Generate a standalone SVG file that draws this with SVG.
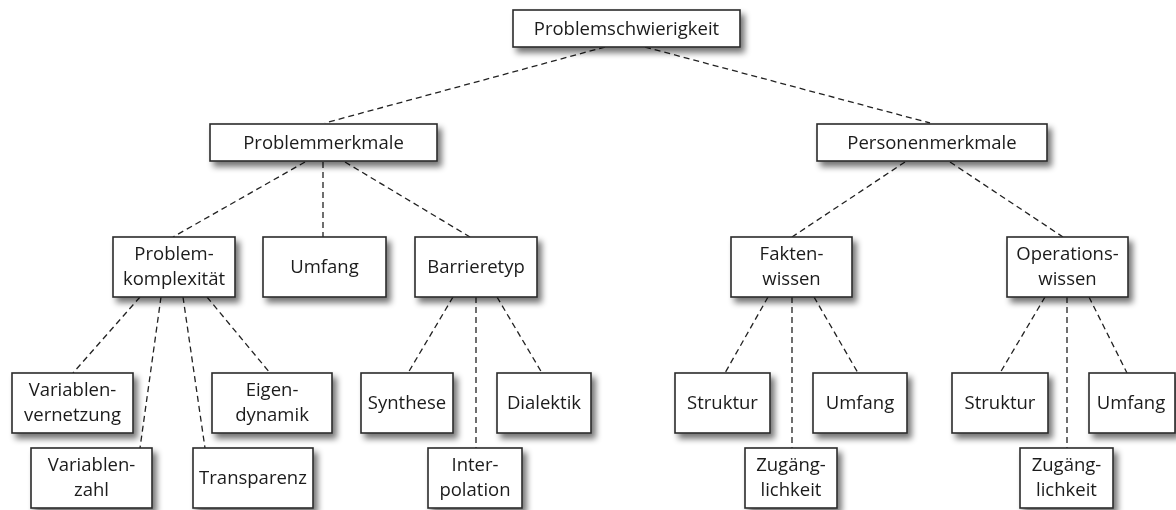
<svg xmlns="http://www.w3.org/2000/svg" width="1176" height="510" viewBox="0 0 1176 510">
  <defs>
    <filter id="shadow" x="-20%" y="-30%" width="150%" height="180%">
      <feGaussianBlur in="SourceAlpha" stdDeviation="3"/>
      <feOffset dx="4" dy="5" result="b"/>
      <feComponentTransfer><feFuncA type="linear" slope="0.55"/></feComponentTransfer>
      <feMerge><feMergeNode/><feMergeNode in="SourceGraphic"/></feMerge>
    </filter>
  </defs>
  <style>
    .box { fill: #ffffff; stroke: #2a2a2a; stroke-width: 1.6; }
    .lbl { font-family: "Open Sans", "Noto Sans", sans-serif; font-size: 18.5px; fill: #1a1a1a; text-anchor: middle; }
    .edge { stroke: #222; stroke-width: 1.3; stroke-dasharray: 6 4; fill: none; }
  </style>
  <rect width="1176" height="510" fill="#ffffff"/>

  <g id="connectors">
    <line class="edge" x1="605" y1="47" x2="325" y2="123"/>
    <line class="edge" x1="645" y1="47" x2="930" y2="123"/>
    <line class="edge" x1="305" y1="162" x2="173" y2="237"/>
    <line class="edge" x1="323" y1="162" x2="323" y2="237"/>
    <line class="edge" x1="345" y1="162" x2="470" y2="237"/>
    <line class="edge" x1="905" y1="162" x2="792" y2="237"/>
    <line class="edge" x1="950" y1="162" x2="1063" y2="237"/>
    <line class="edge" x1="140" y1="297" x2="73" y2="373"/>
    <line class="edge" x1="161" y1="297" x2="140" y2="448"/>
    <line class="edge" x1="183" y1="297" x2="205" y2="448"/>
    <line class="edge" x1="207" y1="297" x2="270" y2="373"/>
    <line class="edge" x1="453" y1="297" x2="408" y2="373"/>
    <line class="edge" x1="476" y1="297" x2="476" y2="448"/>
    <line class="edge" x1="497" y1="297" x2="542" y2="373"/>
    <line class="edge" x1="768" y1="297" x2="725" y2="373"/>
    <line class="edge" x1="792" y1="297" x2="792" y2="448"/>
    <line class="edge" x1="814" y1="297" x2="858" y2="373"/>
    <line class="edge" x1="1045" y1="297" x2="1000" y2="373"/>
    <line class="edge" x1="1067" y1="297" x2="1067" y2="448"/>
    <line class="edge" x1="1089" y1="297" x2="1127" y2="373"/>
  </g>

  <g id="problemschwierigkeit" filter="url(#shadow)">
    <rect class="box" x="513" y="10" width="227" height="37"/>
    <text class="lbl" x="626.5" y="35">Problemschwierigkeit</text>
  </g>
  <g id="problemmerkmale" filter="url(#shadow)">
    <rect class="box" x="210" y="124" width="227" height="37"/>
    <text class="lbl" x="323.5" y="149">Problemmerkmale</text>
  </g>
  <g id="personenmerkmale" filter="url(#shadow)">
    <rect class="box" x="817" y="124" width="230" height="37"/>
    <text class="lbl" x="932" y="149">Personenmerkmale</text>
  </g>

  <g id="problemkomplexitaet" filter="url(#shadow)">
    <rect class="box" x="113" y="237" width="122" height="60"/>
    <text class="lbl" x="174" y="260">Problem-</text>
    <text class="lbl" x="174" y="285">komplexität</text>
  </g>
  <g id="umfang-problem" filter="url(#shadow)">
    <rect class="box" x="263" y="237" width="123" height="60"/>
    <text class="lbl" x="324.5" y="273">Umfang</text>
  </g>
  <g id="barrieretyp" filter="url(#shadow)">
    <rect class="box" x="415" y="237" width="122" height="60"/>
    <text class="lbl" x="476" y="273">Barrieretyp</text>
  </g>
  <g id="faktenwissen" filter="url(#shadow)">
    <rect class="box" x="731" y="237" width="121" height="60"/>
    <text class="lbl" x="791.5" y="260">Fakten-</text>
    <text class="lbl" x="791.5" y="285">wissen</text>
  </g>
  <g id="operationswissen" filter="url(#shadow)">
    <rect class="box" x="1007" y="237" width="121" height="60"/>
    <text class="lbl" x="1067.5" y="260">Operations-</text>
    <text class="lbl" x="1067.5" y="285">wissen</text>
  </g>

  <g id="variablenvernetzung" filter="url(#shadow)">
    <rect class="box" x="12" y="373" width="121" height="60"/>
    <text class="lbl" x="72.5" y="396">Variablen-</text>
    <text class="lbl" x="72.5" y="421">vernetzung</text>
  </g>
  <g id="variablenzahl" filter="url(#shadow)">
    <rect class="box" x="31" y="448" width="121" height="60"/>
    <text class="lbl" x="91.5" y="471">Variablen-</text>
    <text class="lbl" x="91.5" y="496">zahl</text>
  </g>
  <g id="transparenz" filter="url(#shadow)">
    <rect class="box" x="193" y="448" width="120" height="60"/>
    <text class="lbl" x="253" y="484">Transparenz</text>
  </g>
  <g id="eigendynamik" filter="url(#shadow)">
    <rect class="box" x="212" y="373" width="120" height="60"/>
    <text class="lbl" x="272" y="396">Eigen-</text>
    <text class="lbl" x="272" y="421">dynamik</text>
  </g>
  <g id="synthese" filter="url(#shadow)">
    <rect class="box" x="361" y="373" width="92" height="60"/>
    <text class="lbl" x="407" y="409">Synthese</text>
  </g>
  <g id="interpolation" filter="url(#shadow)">
    <rect class="box" x="428" y="448" width="94" height="60"/>
    <text class="lbl" x="475" y="471">Inter-</text>
    <text class="lbl" x="475" y="496">polation</text>
  </g>
  <g id="dialektik" filter="url(#shadow)">
    <rect class="box" x="497" y="373" width="94" height="60"/>
    <text class="lbl" x="544" y="409">Dialektik</text>
  </g>

  <g id="struktur-fakten" filter="url(#shadow)">
    <rect class="box" x="675" y="373" width="95" height="60"/>
    <text class="lbl" x="722.5" y="409">Struktur</text>
  </g>
  <g id="zugaenglichkeit-fakten" filter="url(#shadow)">
    <rect class="box" x="745" y="448" width="92" height="60"/>
    <text class="lbl" x="791" y="471">Zugäng-</text>
    <text class="lbl" x="791" y="496">lichkeit</text>
  </g>
  <g id="umfang-fakten" filter="url(#shadow)">
    <rect class="box" x="813" y="373" width="94" height="60"/>
    <text class="lbl" x="860" y="409">Umfang</text>
  </g>
  <g id="struktur-operationen" filter="url(#shadow)">
    <rect class="box" x="952" y="373" width="96" height="60"/>
    <text class="lbl" x="1000" y="409">Struktur</text>
  </g>
  <g id="zugaenglichkeit-operationen" filter="url(#shadow)">
    <rect class="box" x="1020" y="448" width="93" height="60"/>
    <text class="lbl" x="1066.5" y="471">Zugäng-</text>
    <text class="lbl" x="1066.5" y="496">lichkeit</text>
  </g>
  <g id="umfang-operationen" filter="url(#shadow)">
    <rect class="box" x="1089" y="373" width="86" height="60"/>
    <text class="lbl" x="1131" y="409">Umfang</text>
  </g>
</svg>
